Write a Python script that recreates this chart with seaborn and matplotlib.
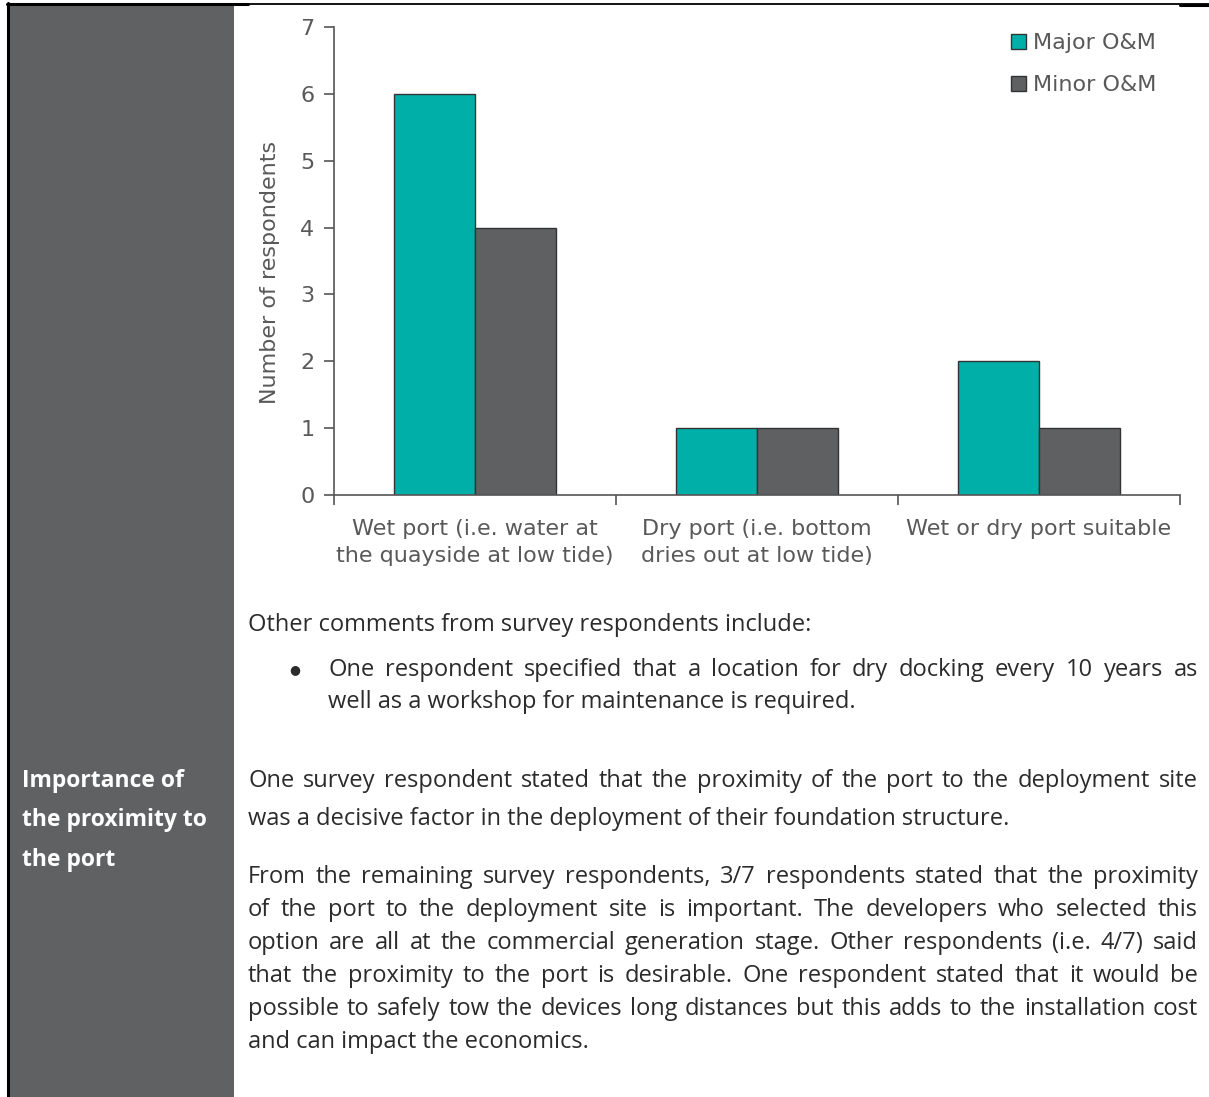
import matplotlib
matplotlib.use("Agg")
import matplotlib.pyplot as plt
import pandas as pd
import seaborn as sns
from matplotlib.patches import Rectangle
from matplotlib.lines import Line2D

# data
categories = ["Wet port (i.e. water at\nthe quayside at low tide)",
              "Dry port (i.e. bottom\ndries out at low tide)",
              "Wet or dry port suitable"]
series = ["Major O&M", "Minor O&M"]
major_vals = [6, 1, 2]
minor_vals = [4, 1, 1]
y_ticks = [0, 1, 2, 3, 4, 5, 6, 7]

side_title = ["Importance of", "the proximity to", "the port"]
intro_line = "Other comments from survey respondents include:"
bullet_lines = ["One respondent specified that a location for dry docking every 10 years as",
                "well as a workshop for maintenance is required."]
para1 = ["One survey respondent stated that the proximity of the port to the deployment site",
         "was a decisive factor in the deployment of their foundation structure."]
para2 = ["From the remaining survey respondents, 3/7 respondents stated that the proximity",
         "of the port to the deployment site is important. The developers who selected this",
         "option are all at the commercial generation stage. Other respondents (i.e. 4/7) said",
         "that the proximity to the port is desirable. One respondent stated that it would be",
         "possible to safely tow the devices long distances but this adds to the installation cost",
         "and can impact the economics."]

df = pd.DataFrame({
    "category": categories * 2,
    "series": [series[0]] * 3 + [series[1]] * 3,
    "value": major_vals + minor_vals,
})

W, H = 1209, 1097
sns.set_theme(style="white")
plt.rcParams["font.family"] = ["DejaVu Sans"]

fig = plt.figure(figsize=(W / 100, H / 100), dpi=100)
fig.patch.set_facecolor("white")


def fx(px):
    return px / W


def fy(py):
    return 1 - py / H


# gray side column and page borders
fig.add_artist(Rectangle((fx(9), 0), fx(234) - fx(9), fy(5), transform=fig.transFigure,
                         facecolor="#606163", edgecolor="none", zorder=0))
fig.add_artist(Line2D([fx(8), fx(8)], [0, fy(3)], transform=fig.transFigure, color="black", lw=2.2))
fig.add_artist(Line2D([fx(7), fx(248)], [fy(4), fy(4)], transform=fig.transFigure, color="black", lw=2.2))
fig.add_artist(Line2D([fx(248), fx(1209)], [fy(3.5), fy(3.5)], transform=fig.transFigure, color="black", lw=1.3))
fig.add_artist(Line2D([fx(1180), fx(1209)], [fy(4.5), fy(4.5)], transform=fig.transFigure, color="black", lw=2.2))

# chart
chart_size = 16
chart_color = "#595959"
ax = fig.add_axes([fx(334), fy(495), fx(1180) - fx(334), fy(27) - fy(495)])
ax.set_facecolor("white")
pal = {series[0]: "#00B0A8", series[1]: "#5F6062"}
sns.barplot(data=df, x="category", y="value", hue="series", palette=pal, width=0.575,
            edgecolor="#333333", linewidth=1.0, saturation=1, ax=ax)
ax.set_xlim(-0.5, 2.5)
ax.set_ylim(0, 7)
ax.set_yticks(y_ticks)
ax.set_xticks([-0.5, 0.5, 1.5, 2.5], minor=True)
sns.despine(ax=ax)
for s in ["left", "bottom"]:
    ax.spines[s].set_color("#555555")
    ax.spines[s].set_linewidth(1.2)
ax.tick_params(axis="y", which="major", length=7, width=1.2, color="#555555", direction="out",
               labelsize=chart_size, labelcolor=chart_color, pad=7, left=True)
ax.tick_params(axis="x", which="major", length=0, labelsize=chart_size, labelcolor=chart_color, pad=17)
ax.tick_params(axis="x", which="minor", length=7, width=1.2, color="#555555", direction="out", bottom=True)
for lab in ax.get_xticklabels():
    lab.set_linespacing(1.45)
ax.set_xlabel("")
ax.set_ylabel("Number of respondents", fontsize=chart_size, color=chart_color)
ax.yaxis.set_label_coords(-0.064, 0.476)
leg = ax.legend(loc="upper right", bbox_to_anchor=(0.99, 1.02), frameon=False, fontsize=chart_size,
                handlelength=0.65, handleheight=0.65, handletextpad=0.3, labelspacing=1.0,
                borderaxespad=0.3, labelcolor=chart_color)

# text body
body_font = ["Open Sans", "DejaVu Sans"]
body_size = 17
body_color = "#2b2b2b"
renderer = fig.canvas.get_renderer()


def justified(line, x0, x1, y):
    words = line.split(" ")
    widths = []
    for w in words:
        t = fig.text(0, 0, w, fontsize=body_size, family=body_font)
        widths.append(t.get_window_extent(renderer=renderer).width)
        t.remove()
    gap = (x1 - x0 - sum(widths)) / max(len(words) - 1, 1)
    x = x0
    for w, wd in zip(words, widths):
        fig.text(fx(x), fy(y), w, fontsize=body_size, family=body_font, color=body_color,
                 va="center", ha="left")
        x += wd + gap


def plain(line, x0, y):
    fig.text(fx(x0), fy(y), line, fontsize=body_size, family=body_font, color=body_color,
             va="center", ha="left")


plain(intro_line, 248, 625)
fig.text(fx(289), fy(670), "\u25CF", fontsize=9, family=body_font, color=body_color,
         va="center", ha="left")
justified(bullet_lines[0], 328, 1198, 670)
plain(bullet_lines[1], 328, 702)

justified(para1[0], 248, 1198, 781)
plain(para1[1], 248, 819)
para2_y = [877, 910, 943, 976, 1009, 1042]
for i, (line, y) in enumerate(zip(para2, para2_y)):
    if i < len(para2) - 1:
        justified(line, 248, 1198, y)
    else:
        plain(line, 248, y)

for line, y in zip(side_title, [781, 820, 860]):
    fig.text(fx(22), fy(y), line, fontsize=16.5, family=body_font, fontweight="bold",
             color="white", va="center", ha="left")

fig.savefig("out.png", dpi=100)
